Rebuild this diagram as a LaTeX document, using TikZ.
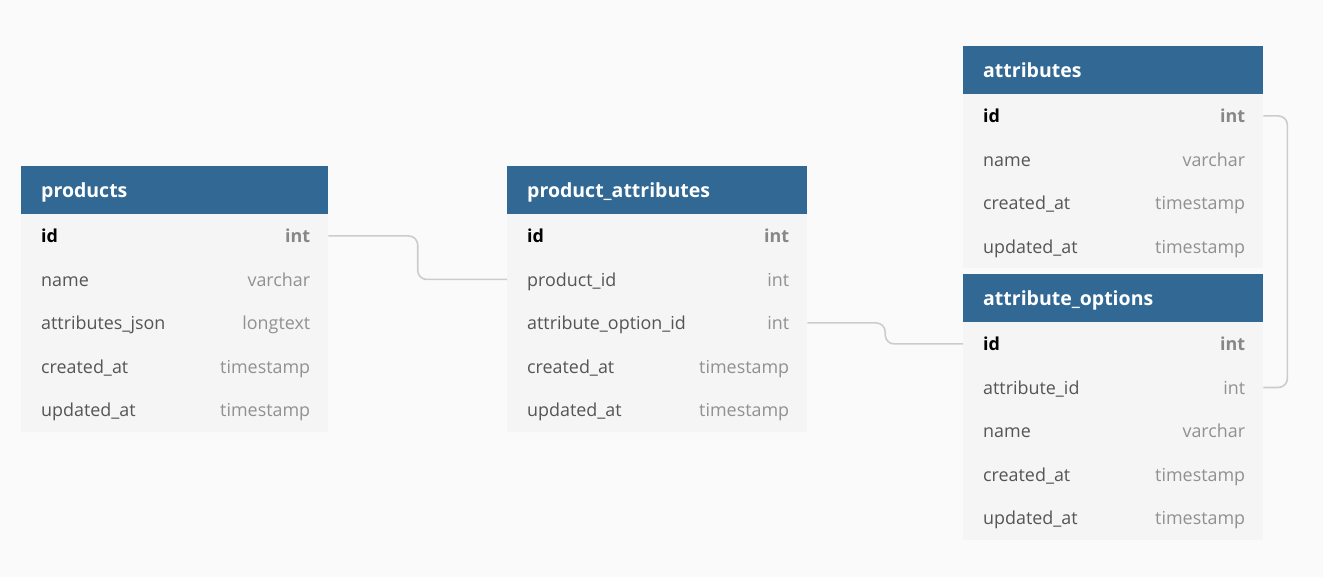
\documentclass[tikz,border=0pt]{standalone}
\usepackage{fontspec}
\setmainfont{Open Sans}
\usetikzlibrary{calc}
\definecolor{hdrblue}{RGB}{49,104,148}
\definecolor{bodybg}{RGB}{245,245,245}
\definecolor{canvas}{RGB}{250,250,250}
\definecolor{fieldcol}{RGB}{85,85,85}
\definecolor{typecol}{RGB}{145,145,145}
\definecolor{pktypecol}{RGB}{135,135,135}
\definecolor{conncol}{RGB}{204,204,204}
\tikzset{
  hdrbox/.style={fill=hdrblue, draw=none, minimum height=48pt, inner sep=0pt, anchor=north west},
  rowbox/.style={fill=bodybg, draw=none, minimum height=43.5pt, inner sep=0pt, anchor=north west},
  titletext/.style={text=white, font=\fontsize{19.5}{22}\selectfont\bfseries, inner sep=0pt, anchor=base west},
  fieldtext/.style={text=fieldcol, font=\fontsize{17.9}{20}\selectfont, inner sep=0pt, anchor=base west},
  pkfieldtext/.style={text=black, font=\fontsize{17.9}{20}\selectfont\bfseries, inner sep=0pt, anchor=base west},
  typetext/.style={text=typecol, font=\fontsize{17.9}{20}\selectfont, inner sep=0pt, anchor=base east},
  pktypetext/.style={text=pktypecol, font=\fontsize{17.9}{20}\selectfont\bfseries, inner sep=0pt, anchor=base east},
  conn/.style={draw=conncol, line width=1.6pt, rounded corners=9pt},
}
% #1 name, #2 x, #3 y, #4 width, #5 title
\newcommand\ertable[5]{%
  \node[hdrbox, minimum width=#4pt] (#1) at (#2,#3) {};
  \node[titletext] (#1-t) at ([xshift=20pt,yshift=-7pt]#1.west) {#5};
}
% #1 name, #2 x, #3 y, #4 width, #5 field, #6 type, #7 pk or empty
\newcommand\errow[7]{%
  \node[rowbox, minimum width=#4pt] (#1) at (#2,#3) {};
  \node[#7fieldtext] (#1-f) at ([xshift=20pt,yshift=-7pt]#1.west) {#5};
  \node[#7typetext] (#1-y) at ([xshift=-18pt,yshift=-7pt]#1.east) {#6};
}
\begin{document}
\begin{tikzpicture}[x=1pt,y=-1pt]
\fill[canvas] (0,0) rectangle (1323,577);
\useasboundingbox (0,0) rectangle (1323,577);

% products
\ertable{products}{21}{166}{307}{products}
\errow{p-id}{21}{214}{307}{id}{int}{pk}
\errow{p-name}{21}{257.5}{307}{name}{varchar}{}
\errow{p-json}{21}{301}{307}{attributes\_json}{longtext}{}
\errow{p-created}{21}{344.5}{307}{created\_at}{timestamp}{}
\errow{p-updated}{21}{388}{307}{updated\_at}{timestamp}{}

% product_attributes
\ertable{pa}{507}{166}{300}{product\_attributes}
\errow{pa-id}{507}{214}{300}{id}{int}{pk}
\errow{pa-pid}{507}{257.5}{300}{product\_id}{int}{}
\errow{pa-aoid}{507}{301}{300}{attribute\_option\_id}{int}{}
\errow{pa-created}{507}{344.5}{300}{created\_at}{timestamp}{}
\errow{pa-updated}{507}{388}{300}{updated\_at}{timestamp}{}

% attributes
\ertable{attr}{963}{46}{300}{attributes}
\errow{a-id}{963}{94}{300}{id}{int}{pk}
\errow{a-name}{963}{137.5}{300}{name}{varchar}{}
\errow{a-created}{963}{181}{300}{created\_at}{timestamp}{}
\errow{a-updated}{963}{224.5}{300}{updated\_at}{timestamp}{}

% attribute_options
\ertable{ao}{963}{274}{300}{attribute\_options}
\errow{ao-id}{963}{322}{300}{id}{int}{pk}
\errow{ao-aid}{963}{365.5}{300}{attribute\_id}{int}{}
\errow{ao-name}{963}{409}{300}{name}{varchar}{}
\errow{ao-created}{963}{452.5}{300}{created\_at}{timestamp}{}
\errow{ao-updated}{963}{496}{300}{updated\_at}{timestamp}{}

% connectors
\coordinate (m1) at ($(p-id.east)!0.5!(pa-pid.west)$);
\coordinate (m2) at ($(pa-aoid.east)!0.5!(ao-id.west)$);
\coordinate (loop) at ([xshift=24pt]a-id.east);
\draw[conn] (p-id.east) -| (m1 |- pa-pid.west) -- (pa-pid.west);
\draw[conn] (pa-aoid.east) -| (m2 |- ao-id.west) -- (ao-id.west);
\draw[conn] (a-id.east) -- (loop) |- (ao-aid.east);
\end{tikzpicture}
\end{document}
